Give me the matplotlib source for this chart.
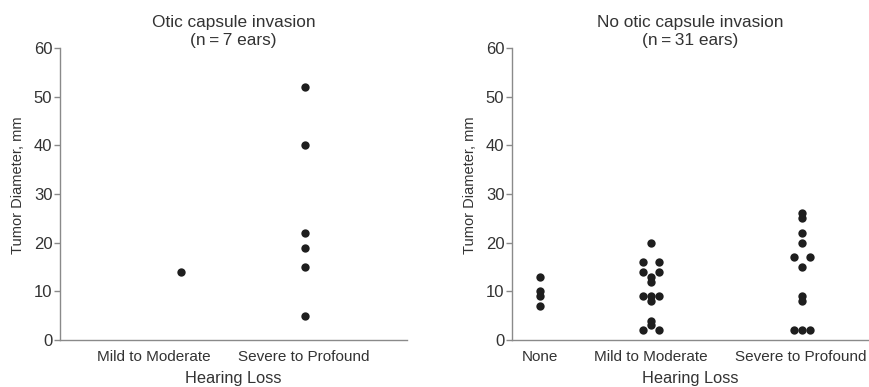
import matplotlib
matplotlib.use("Agg")
import matplotlib.pyplot as plt
import numpy as np

plt.rcParams["font.family"] = ["Liberation Sans", "DejaVu Sans"]
plt.rcParams["font.size"] = 11

# tumour diameter (mm) per ear, by hearing loss group
otic_groups = ["Mild to Moderate", "Severe to Profound"]
otic_mild = [14]
otic_severe = [52, 40, 22, 19, 15, 5]

no_otic_groups = ["None", "Mild to Moderate", "Severe to Profound"]
no_otic_none = [13, 10, 9, 7]
no_otic_mild = [20, 16, 16, 14, 14, 13, 12, 9, 9, 9, 8, 4, 3, 2, 2]
no_otic_severe = [26, 25, 22, 20, 17, 17, 15, 9, 8, 2, 2, 2]

TEXT = "#333333"
SPINE = "#8a8a8a"
DOT = "#1e1e1e"
STEP = 0.083  # horizontal spread of identical values


def spread(values):
    # identical values fan out sideways: 2 -> +-d, 3 -> -d, 0, +d
    xs = []
    seen = {}
    for v in values:
        seen[v] = seen.get(v, 0) + 1
    used = {}
    for v in values:
        n = seen[v]
        i = used.get(v, 0)
        used[v] = i + 1
        if n == 1:
            xs.append(0.0)
        elif n == 2:
            xs.append([-STEP, STEP][i])
        else:
            xs.append((i - (n - 1) / 2) * STEP)
    return np.array(xs)


def style(ax, width):
    ax.set_ylim(0, 60)
    ax.set_xlim(0, width)
    ax.set_yticks(range(0, 61, 10))
    for s in ["top", "right"]:
        ax.spines[s].set_visible(False)
    for s in ["left", "bottom"]:
        ax.spines[s].set_color(SPINE)
        ax.spines[s].set_linewidth(1.0)
    ax.tick_params(axis="y", length=4, width=1.0, color=SPINE,
                   labelcolor=TEXT, labelsize=12, pad=1.5)
    ax.tick_params(axis="x", length=0, labelcolor=TEXT, pad=7)
    ax.set_ylabel("Tumor Diameter, mm", color=TEXT, fontsize=10.5)
    ax.yaxis.set_label_coords(-0.35 / width, 0.53)
    ax.set_xlabel("Hearing Loss", color=TEXT, fontsize=11.8, labelpad=5)


fig = plt.figure(figsize=(8.69, 3.87), dpi=100)

ax1 = fig.add_axes([60 / 869, 0.1214, 347 / 869, 0.7545])
style(ax1, 3.47)
ax1.scatter(1.21 + spread(otic_mild), otic_mild, s=36, color=DOT,
            linewidths=0, clip_on=False, zorder=3)
ax1.scatter(2.45 + spread(otic_severe), otic_severe, s=36, color=DOT,
            linewidths=0, clip_on=False, zorder=3)
ax1.set_xticks([0.94, 2.44])
ax1.set_xticklabels(otic_groups)
ax1.set_title("Otic capsule invasion\n(n\u2009=\u20097 ears)", color=TEXT,
              fontsize=12.4, pad=2.5, linespacing=1.2)

ax2 = fig.add_axes([512 / 869, 0.1214, 357 / 869, 0.7545])
style(ax2, 3.57)
for pos, vals in zip([0.28, 1.39, 2.90],
                     [no_otic_none, no_otic_mild, no_otic_severe]):
    ax2.scatter(pos + spread(vals), vals, s=36, color=DOT, linewidths=0,
                clip_on=False, zorder=3)
ax2.set_xticks([0.28, 1.39, 2.89])
ax2.set_xticklabels(no_otic_groups)
ax2.set_title("No otic capsule invasion\n(n\u2009=\u200931 ears)", color=TEXT,
              fontsize=12.4, pad=2.5, linespacing=1.2)

fig.savefig("out.png", dpi=100)
